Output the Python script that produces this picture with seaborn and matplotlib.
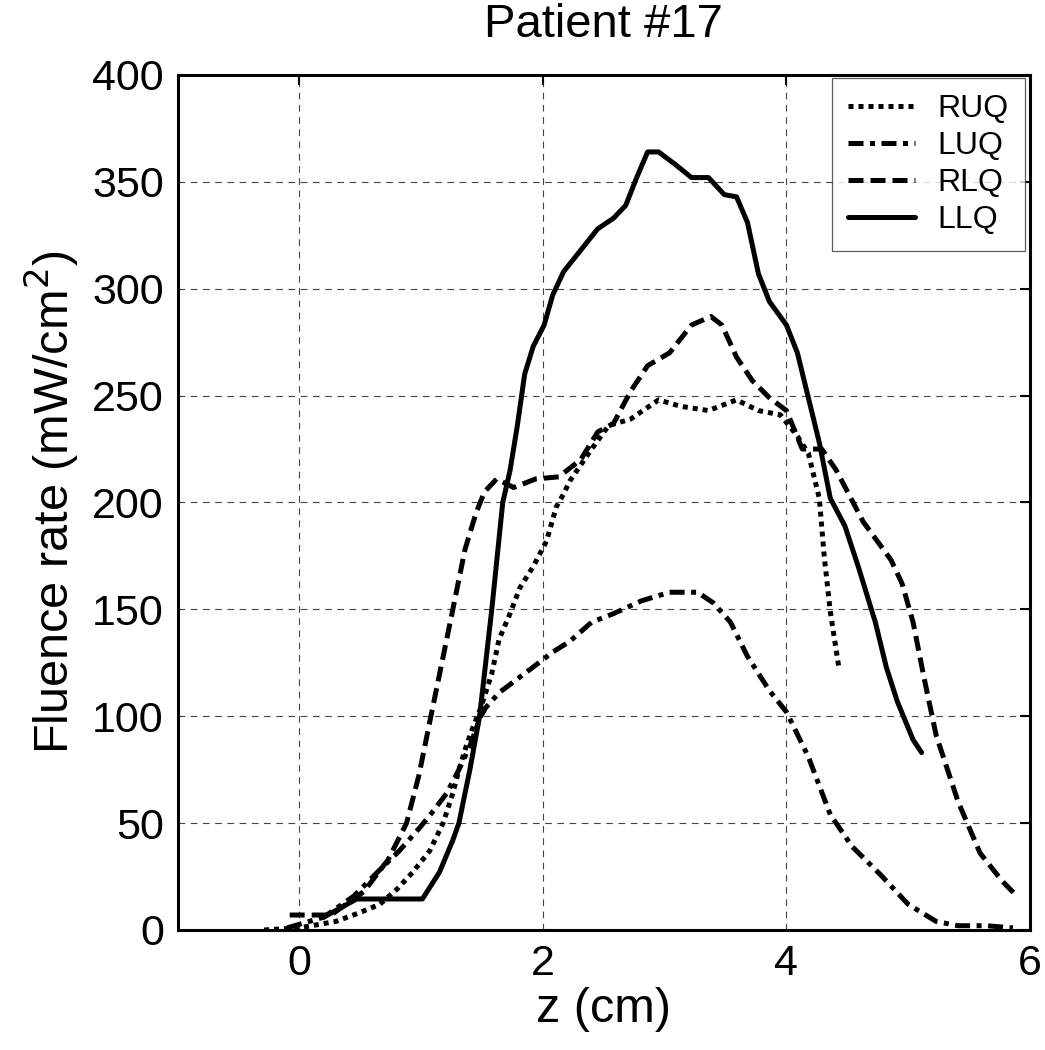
"""
Patient #17 — fluence rate profiles along z for the four quadrants.
Saves out.png (~1045x1050 px).
"""
import matplotlib
matplotlib.use("Agg")

import matplotlib.pyplot as plt
import pandas as pd
import seaborn as sns

# ------------------------------------------------------------
# Data (z in cm, fluence rate in mW/cm^2)
# ------------------------------------------------------------
ruq_z = [-0.29, 0.0, 0.3, 0.49, 0.66, 0.80, 0.93, 1.07, 1.18, 1.26, 1.31, 1.37,
         1.42, 1.49, 1.58, 1.64, 1.73, 1.81, 1.92, 2.03, 2.11, 2.17, 2.22, 2.40,
         2.54, 2.72, 2.95, 3.13, 3.36, 3.59, 3.77, 3.95, 4.09, 4.18, 4.27, 4.31,
         4.36, 4.43]
ruq_f = [0, 1, 4, 8, 12, 19, 27, 37, 50, 64, 75, 86,
         94, 104, 120, 136, 148, 160, 170, 182, 198, 204, 210, 225,
         236, 239, 248, 245, 243, 248, 243, 241, 231, 223, 202, 175,
         149, 123]

luq_z = [-0.1, 0.2, 0.45, 0.64, 0.82, 0.99, 1.09, 1.21, 1.31, 1.40, 1.45, 1.49,
         1.53, 1.64, 1.78, 1.92, 2.08, 2.22, 2.40, 2.58, 2.81, 3.04, 3.27, 3.40,
         3.54, 3.68, 3.86, 4.00, 4.18, 4.36, 4.54, 4.77, 5.00, 5.23, 5.41, 5.64,
         5.86]
luq_f = [1, 6, 16, 27, 37, 48, 55, 64, 75, 86, 94, 100,
         104, 111, 117, 123, 130, 135, 144, 148, 154, 158, 158, 153,
         144, 128, 112, 102, 81, 54, 39, 26, 12, 4, 2, 2,
         1]

rlq_z = [-0.08, 0.26, 0.53, 0.73, 0.88, 0.98, 1.08, 1.17, 1.26, 1.36, 1.45, 1.52,
         1.62, 1.76, 1.94, 2.13, 2.31, 2.45, 2.58, 2.72, 2.86, 3.04, 3.22, 3.38,
         3.47, 3.59, 3.72, 3.86, 4.00, 4.13, 4.29, 4.41, 4.63, 4.86, 4.95, 5.04,
         5.13, 5.23, 5.41, 5.59, 5.77, 5.89]
rlq_f = [7, 7, 18, 33, 50, 72, 100, 125, 150, 178, 195, 205,
         211, 207, 211, 212, 220, 233, 237, 252, 264, 270, 283, 287,
         283, 268, 257, 249, 243, 225, 225, 215, 191, 173, 162, 144,
         118, 91, 60, 36, 23, 16]

llq_z = [0.2, 0.47, 1.01, 1.15, 1.26, 1.31, 1.40, 1.48, 1.58, 1.67, 1.73, 1.79,
         1.85, 1.92, 2.01, 2.08, 2.17, 2.31, 2.45, 2.58, 2.68, 2.77, 2.86, 2.95,
         3.09, 3.22, 3.36, 3.49, 3.59, 3.68, 3.77, 3.86, 4.00, 4.09, 4.18, 4.27,
         4.36, 4.48, 4.59, 4.73, 4.82, 4.91, 5.04, 5.11]
llq_f = [6, 14.5, 14.5, 27, 42, 50, 75, 100, 150, 200, 215, 236,
         260, 273, 283, 297, 308, 318, 328, 333, 339, 352, 364, 364,
         358, 352, 352, 344, 343, 331, 307, 294, 283, 270, 249, 228,
         202, 189, 170, 144, 123, 107, 89, 83]

quadrants = ["RUQ", "LUQ", "RLQ", "LLQ"]
x_ticks = [0, 2, 4, 6]
y_ticks = [0, 50, 100, 150, 200, 250, 300, 350, 400]

# Long table for seaborn
df = pd.concat([
    pd.DataFrame({"z": ruq_z, "fluence": ruq_f, "quadrant": "RUQ"}),
    pd.DataFrame({"z": luq_z, "fluence": luq_f, "quadrant": "LUQ"}),
    pd.DataFrame({"z": rlq_z, "fluence": rlq_f, "quadrant": "RLQ"}),
    pd.DataFrame({"z": llq_z, "fluence": llq_f, "quadrant": "LLQ"}),
], ignore_index=True)

# Style (set fonts/colours after seaborn, which resets them)
sns.set_style("white")
plt.rcParams["font.family"] = ["Liberation Sans", "DejaVu Sans"]
for k in ["text.color", "axes.labelcolor", "xtick.color", "ytick.color"]:
    plt.rcParams[k] = "black"

estilos = {
    "RUQ": (0, (1, 1)),
    "LUQ": (0, (3, 1.3, 1, 1.3)),
    "RLQ": (0, (3, 1.4)),
    "LLQ": "-",
}

fig = plt.figure(figsize=(10.45, 10.5), dpi=100)
ax = fig.add_axes([0.170, 0.1143, 0.8156, 0.8143])

for q in quadrants:
    sub = df[df["quadrant"] == q]
    sns.lineplot(data=sub, x="z", y="fluence", ax=ax, color="black",
                 linewidth=3.6, label=q, sort=False, estimator=None)
    ax.lines[-1].set_linestyle(estilos[q])

ax.set_xlim(-1, 6)
ax.set_ylim(0, 400)
ax.set_xticks(x_ticks)
ax.set_yticks(y_ticks)
ax.tick_params(direction="in", length=7, width=1.5, labelsize=31,
               top=True, right=True, pad=10)
ax.grid(True, color="#444444", linestyle=(0, (6, 5)), linewidth=0.8)
for s in ax.spines.values():
    s.set_linewidth(2.2)
    s.set_color("black")

ax.set_title("Patient #17", fontsize=34, pad=27)
ax.set_xlabel("z (cm)", fontsize=35, labelpad=2)
ax.set_ylabel("Fluence rate (mW/cm$^2$)", fontsize=35, labelpad=8)

leg = ax.legend(loc="upper right", fontsize=23, frameon=True, fancybox=False,
                handlelength=2.1, handletextpad=0.7, borderpad=0.5,
                labelspacing=0.22, borderaxespad=0.0,
                bbox_to_anchor=(0.994, 0.996))
leg.get_frame().set_edgecolor("#333333")
leg.get_frame().set_linewidth(0.9)

fig.savefig("out.png", dpi=100)
plt.close(fig)
